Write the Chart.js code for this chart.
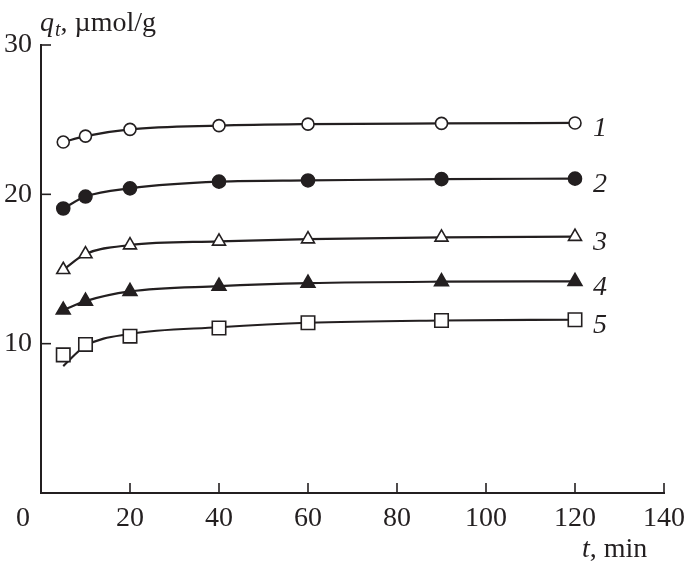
<!DOCTYPE html>
<html>
<head>
<meta charset="utf-8">
<script src="https://cdn.jsdelivr.net/npm/chart.js@4.4.1/dist/chart.umd.min.js"></script>
<style>
  html, body { margin: 0; padding: 0; background: #fff; }
  #wrap { width: 685px; height: 568px; }
</style>
</head>
<body>
<div id="wrap"><canvas id="chart" width="685" height="568"></canvas></div>
<script>
// time points, min
const times = [5, 10, 20, 40, 60, 90, 120];

// measured q_t, umol/g
const q1 = [23.5, 23.9, 24.35, 24.6, 24.7, 24.75, 24.78];
const q2 = [19.05, 19.85, 20.4, 20.85, 20.93, 21.02, 21.05];
const q3 = [14.95, 16.0, 16.6, 16.85, 17.0, 17.12, 17.17];
const q4 = [12.25, 12.85, 13.5, 13.85, 14.05, 14.15, 14.17];
const q5 = [9.25, 9.95, 10.5, 11.05, 11.4, 11.55, 11.6];

// fitted curve 5 starts below the first point
const fit5 = [8.5, 9.85, 10.65, 11.1, 11.4, 11.55, 11.6];

const seriesLabels = ["1", "2", "3", "4", "5"];
const xTicks = [0, 20, 40, 60, 80, 100, 120, 140];
const yTicks = [10, 20, 30];

const ink = "#231f20";
const serif = "'Liberation Serif', 'Times New Roman', serif";

const pts = arr => times.map((t, i) => ({ x: t, y: arr[i] }));

const markerSeries = [q1, q2, q3, q4, q5];
const fitSeries = [q1, q2, q3, q4, fit5];
const markerStyle = [
  { pointStyle: "circle", radius: 6, fill: "#fff" },
  { pointStyle: "circle", radius: 6.5, fill: ink },
  { pointStyle: "triangle", radius: 7.5, fill: "#fff" },
  { pointStyle: "triangle", radius: 8, fill: ink },
  { pointStyle: "rect", radius: 9.5, fill: "#fff" }
];

const datasets = [];
fitSeries.forEach((arr, i) => {
  datasets.push({
    data: pts(arr),
    showLine: true,
    borderColor: ink,
    borderWidth: 2.2,
    pointRadius: 0,
    cubicInterpolationMode: "monotone",
    order: 2
  });
});
markerSeries.forEach((arr, i) => {
  const s = markerStyle[i];
  datasets.push({
    label: seriesLabels[i],
    data: pts(arr),
    showLine: false,
    pointStyle: s.pointStyle,
    pointRadius: s.radius,
    pointBackgroundColor: s.fill,
    pointBorderColor: ink,
    pointBorderWidth: 1.6,
    order: 1
  });
});

const decorations = {
  id: "decorations",
  afterDraw(chart) {
    const ctx = chart.ctx;
    const xs = chart.scales.x;
    const ys = chart.scales.y;
    const area = chart.chartArea;
    ctx.save();
    ctx.strokeStyle = ink;
    ctx.lineWidth = 1.6;
    // inward tick marks
    xTicks.forEach(v => {
      if (v === 0) return;
      const px = xs.getPixelForValue(v);
      ctx.beginPath();
      ctx.moveTo(px, area.bottom);
      ctx.lineTo(px, area.bottom - 10);
      ctx.stroke();
    });
    yTicks.forEach(v => {
      const py = ys.getPixelForValue(v);
      ctx.beginPath();
      ctx.moveTo(area.left, py);
      ctx.lineTo(area.left + 10, py);
      ctx.stroke();
    });

    ctx.fillStyle = ink;
    ctx.textBaseline = "alphabetic";

    // origin label
    ctx.font = "28px " + serif;
    ctx.textAlign = "center";
    ctx.fillText("0", xs.getPixelForValue(0) - 18, 526);

    // y axis title
    ctx.textAlign = "left";
    let x = 40;
    ctx.font = "italic 28px " + serif;
    ctx.fillText("q", x, 31);
    x += ctx.measureText("q").width + 1;
    ctx.font = "italic 20px " + serif;
    ctx.fillText("t", x, 36);
    x += ctx.measureText("t").width;
    ctx.font = "28px " + serif;
    ctx.fillText(", \u00b5mol/g", x, 31);

    // x axis title
    x = 582;
    ctx.font = "italic 28px " + serif;
    ctx.fillText("t", x, 557);
    x += ctx.measureText("t").width;
    ctx.font = "28px " + serif;
    ctx.fillText(", min", x, 557);

    // curve numbers
    ctx.font = "italic 28px " + serif;
    ctx.textAlign = "center";
    ctx.textBaseline = "middle";
    markerSeries.forEach((arr, i) => {
      const last = arr.length - 1;
      const px = xs.getPixelForValue(times[last]) + 25;
      const py = ys.getPixelForValue(arr[last]) + 6;
      ctx.fillText(seriesLabels[i], px, py);
    });
    ctx.restore();
  }
};

new Chart(document.getElementById("chart"), {
  type: "scatter",
  data: { datasets: datasets },
  options: {
    responsive: false,
    animation: false,
    layout: { padding: { top: 45, right: 21, left: 0, bottom: 0 } },
    plugins: { legend: { display: false }, tooltip: { enabled: false } },
    scales: {
      x: {
        type: "linear",
        min: 0,
        max: 140,
        afterFit: s => { s.height = 75; s.paddingLeft = 0; s.paddingRight = 0; },
        afterBuildTicks: s => { s.ticks = xTicks.map(v => ({ value: v })); },
        grid: { display: false, drawTicks: false },
        border: { display: true, color: ink, width: 2 },
        ticks: {
          padding: 9,
          color: ink,
          font: { family: serif, size: 28 },
          maxRotation: 0,
          callback: v => (v === 0 ? "" : String(v))
        }
      },
      y: {
        type: "linear",
        min: 0,
        max: 30,
        afterFit: s => { s.width = 41; s.paddingTop = 0; s.paddingBottom = 0; },
        afterBuildTicks: s => { s.ticks = yTicks.map(v => ({ value: v })); },
        grid: { display: false, drawTicks: false },
        border: { display: true, color: ink, width: 2 },
        ticks: {
          padding: 9,
          color: ink,
          font: { family: serif, size: 28 }
        }
      }
    }
  },
  plugins: [decorations]
});
</script>
</body>
</html>
